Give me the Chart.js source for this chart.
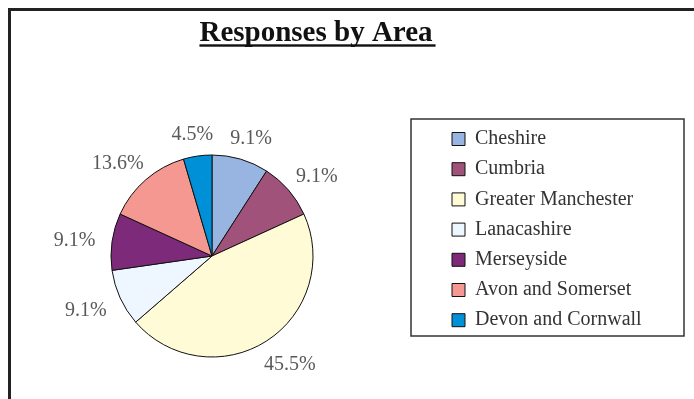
<!DOCTYPE html>
<html>
<head>
<meta charset="utf-8">
<script src="https://cdn.jsdelivr.net/npm/chart.js@4/dist/chart.umd.min.js"></script>
<style>
  html, body { margin: 0; padding: 0; background: #fff; }
  #wrap { width: 694px; height: 399px; position: relative; }
</style>
</head>
<body>
<div id="wrap"><canvas id="c" width="694" height="399"></canvas></div>
<script>
// ---- data ----
const titleText = 'Responses by Area';
const categories = ['Cheshire', 'Cumbria', 'Greater Manchester', 'Lanacashire', 'Merseyside', 'Avon and Somerset', 'Devon and Cornwall'];
const responses = [2, 2, 10, 2, 2, 3, 1];
const sliceColors = ['#98B4E0', '#A0527A', '#FFFBD6', '#EEF6FF', '#7E2A7B', '#F59892', '#0090D8'];

const total = responses.reduce((a, b) => a + b, 0);
const percentLabels = responses.map(v => (v / total * 100).toFixed(1) + '%');

// ---- layout constants ----
const SERIF = '"Liberation Serif", "Times New Roman", serif';
const TITLE_SIZE = 29;
const PIE = { cx: 212, cy: 256, r: 101 };
const LABEL_GAP = 17;
const LABEL_DY = 3;
const LEGEND_FRAME = { x: 411, y: 119, w: 273, h: 217 };
const LEGEND_BOX_X = 452;
const LEGEND_FIRST_TOP = 129;
const LEGEND_PAD = 10.2;
const TITLE_CENTER_X = 316;

const layoutPlugin = {
  id: 'fixLayout',
  afterLayout(chart) {
    chart.chartArea = {
      left: PIE.cx - PIE.r, right: PIE.cx + PIE.r,
      top: PIE.cy - PIE.r, bottom: PIE.cy + PIE.r,
      width: 2 * PIE.r, height: 2 * PIE.r
    };
    const t = chart.titleBlock;
    if (t) { t.left = 0; t.right = 2 * TITLE_CENTER_X; t.width = t.right - t.left; }
    const lg = chart.legend;
    if (lg) {
      lg.left = LEGEND_BOX_X - LEGEND_PAD;
      lg.right = 694;
      lg.top = LEGEND_FIRST_TOP - LEGEND_PAD;
      lg.bottom = 399;
      lg.width = lg.right - lg.left;
      lg.height = lg.bottom - lg.top;
    }
  },
  beforeDraw(chart) {
    const ctx = chart.ctx;
    ctx.save();
    ctx.fillStyle = '#ffffff';
    ctx.fillRect(0, 0, chart.width, chart.height);
    // outer frame (continues past the right and bottom edges)
    ctx.strokeStyle = '#222222';
    ctx.lineWidth = 3;
    ctx.strokeRect(9.5, 9.5, chart.width + 20, chart.height + 20);
    // legend frame
    ctx.strokeStyle = '#333333';
    ctx.lineWidth = 1.5;
    ctx.strokeRect(LEGEND_FRAME.x, LEGEND_FRAME.y, LEGEND_FRAME.w, LEGEND_FRAME.h);
    ctx.restore();
  },
  afterDraw(chart) {
    // underline the title
    const t = chart.titleBlock;
    if (!t) return;
    const ctx = chart.ctx;
    ctx.save();
    ctx.font = 'bold ' + TITLE_SIZE + 'px ' + SERIF;
    const w = ctx.measureText(titleText).width;
    ctx.fillStyle = '#111111';
    ctx.fillRect(TITLE_CENTER_X - w / 2, 44.3, w + 3, 2.4);
    ctx.restore();
  }
};

const labelPlugin = {
  id: 'outsideLabels',
  afterDatasetsDraw(chart) {
    const ctx = chart.ctx;
    const meta = chart.getDatasetMeta(0);
    ctx.save();
    ctx.font = '20px ' + SERIF;
    ctx.fillStyle = '#595959';
    ctx.textAlign = 'center';
    ctx.textBaseline = 'middle';
    meta.data.forEach((arc, i) => {
      const p = arc.getProps(['x', 'y', 'startAngle', 'endAngle', 'outerRadius'], true);
      const mid = (p.startAngle + p.endAngle) / 2;
      const ux = Math.cos(mid), uy = Math.sin(mid);
      const text = percentLabels[i];
      const w = ctx.measureText(text).width, h = 15;
      const ax = p.x + ux * (p.outerRadius + LABEL_GAP);
      const ay = p.y + uy * (p.outerRadius + LABEL_GAP);
      ctx.fillText(text, ax + ux * w / 2, ay + uy * h / 2 + LABEL_DY);
    });
    ctx.restore();
  }
};

new Chart(document.getElementById('c'), {
  type: 'pie',
  data: {
    labels: categories,
    datasets: [{
      data: responses,
      backgroundColor: sliceColors,
      borderColor: '#111111',
      borderWidth: 1,
      radius: PIE.r
    }]
  },
  options: {
    responsive: false,
    devicePixelRatio: 1,
    animation: false,
    events: [],
    layout: { padding: 0 },
    plugins: {
      title: {
        display: true,
        text: titleText,
        color: '#111111',
        font: { family: SERIF, size: TITLE_SIZE, weight: 'bold', lineHeight: 1.2 },
        padding: { top: 16.5, bottom: 5 }
      },
      legend: {
        display: true,
        position: 'right',
        align: 'start',
        labels: {
          boxWidth: 13,
          boxHeight: 13,
          padding: LEGEND_PAD,
          color: '#333333',
          font: { family: SERIF, size: 20 }
        }
      },
      tooltip: { enabled: false }
    }
  },
  plugins: [layoutPlugin, labelPlugin]
});
</script>
</body>
</html>
